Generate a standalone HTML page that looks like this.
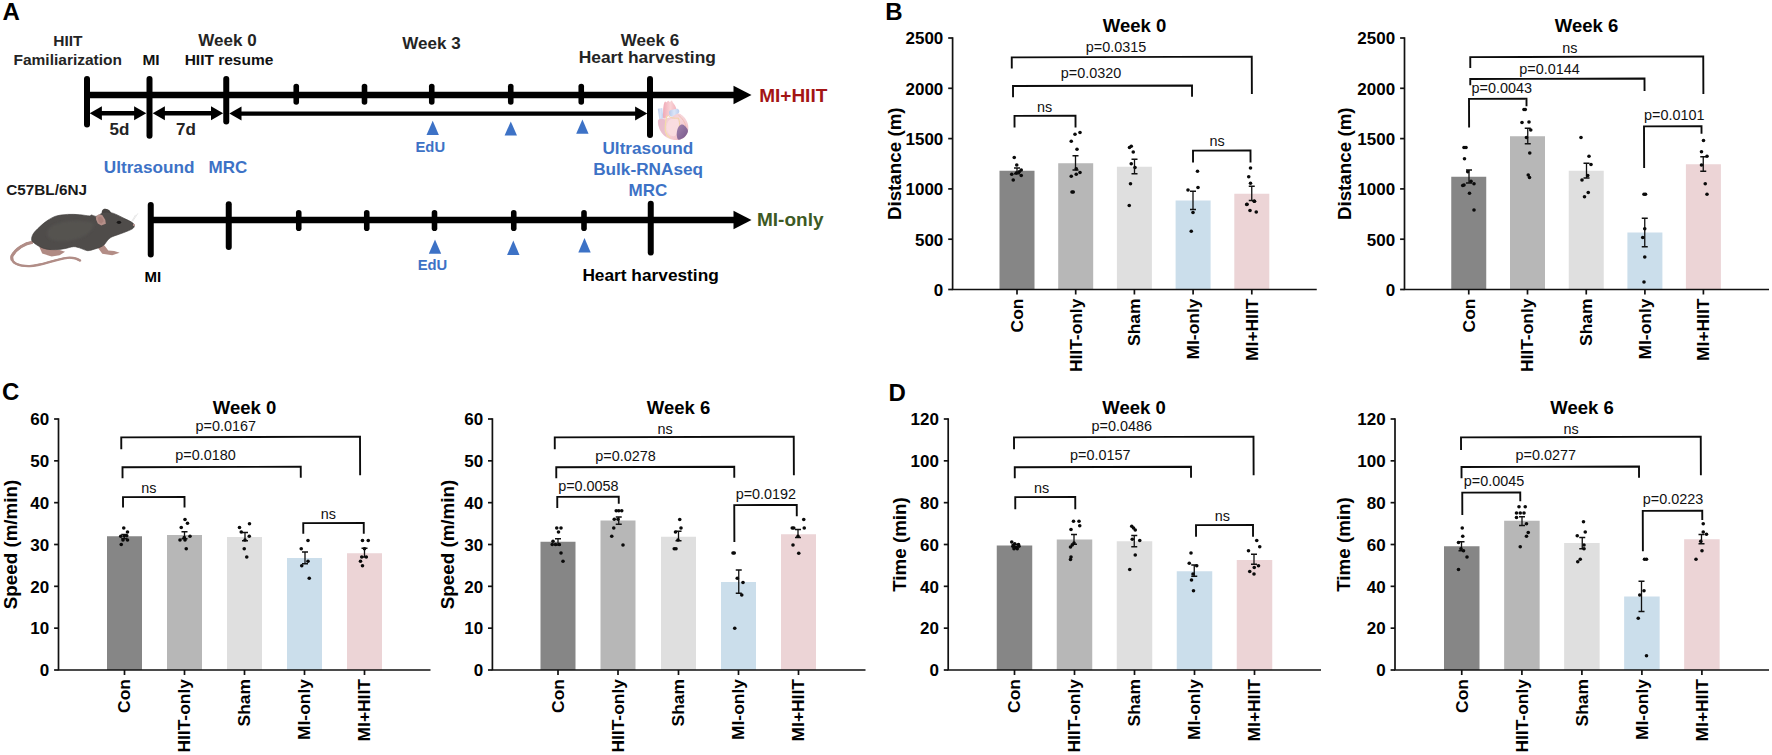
<!DOCTYPE html>
<html lang="en"><head><meta charset="utf-8"><title>Figure</title>
<style>html,body{margin:0;padding:0;background:#fff;overflow:hidden}svg{display:block}text{font-family:"Liberation Sans", Arial, sans-serif}</style>
</head><body>
<svg width="1772" height="755" viewBox="0 0 1772 755">
<rect width="1772" height="755" fill="#fff"/>
<text x="2.4" y="20" font-size="24" font-weight="bold" fill="#000" text-anchor="start">A</text>
<text x="67.9" y="45.8" font-size="15.5" font-weight="bold" fill="#242424" text-anchor="middle">HIIT</text>
<text x="67.75" y="64.5" font-size="15.5" font-weight="bold" fill="#242424" text-anchor="middle">Familiarization</text>
<text x="151" y="64.5" font-size="15.5" font-weight="bold" fill="#111" text-anchor="middle">MI</text>
<text x="227.5" y="46.3" font-size="17" font-weight="bold" fill="#242424" text-anchor="middle">Week 0</text>
<text x="229" y="65" font-size="15.5" font-weight="bold" fill="#111" text-anchor="middle">HIIT resume</text>
<text x="431.5" y="48.8" font-size="17" font-weight="bold" fill="#242424" text-anchor="middle">Week 3</text>
<text x="650" y="46.3" font-size="17" font-weight="bold" fill="#242424" text-anchor="middle">Week 6</text>
<text x="647.3" y="62.5" font-size="17.4" font-weight="bold" fill="#242424" text-anchor="middle">Heart harvesting</text>
<g stroke="#000" stroke-linecap="round" fill="none">
<line x1="87" y1="95" x2="736" y2="95" stroke-width="6.5" stroke-linecap="butt"/>
<line x1="87" y1="79" x2="87" y2="124.5" stroke-width="6"/>
<line x1="149.5" y1="79" x2="149.5" y2="135.7" stroke-width="6"/>
<line x1="226.25" y1="79" x2="226.25" y2="121.5" stroke-width="6"/>
<line x1="650" y1="79" x2="650" y2="135" stroke-width="6"/>
<line x1="296.25" y1="86.5" x2="296.25" y2="102" stroke-width="5.6"/>
<line x1="364.5" y1="86.5" x2="364.5" y2="102" stroke-width="5.6"/>
<line x1="431.75" y1="86.5" x2="431.75" y2="102" stroke-width="5.6"/>
<line x1="510.75" y1="86.5" x2="510.75" y2="102" stroke-width="5.6"/>
<line x1="581.25" y1="86.5" x2="581.25" y2="102" stroke-width="5.6"/>
</g>
<polygon points="733.5,85.8 751.5,95 733.5,104.2" fill="#000"/>
<line x1="100.9" y1="113.3" x2="135.1" y2="113.3" stroke="#000" stroke-width="4.4"/>
<polygon points="89.7,113.3 101.9,106.3 101.9,120.3" fill="#000"/>
<polygon points="146.3,113.3 134.1,106.3 134.1,120.3" fill="#000"/>
<line x1="163.9" y1="113.3" x2="212" y2="113.3" stroke="#000" stroke-width="4.4"/>
<polygon points="152.7,113.3 164.9,106.3 164.9,120.3" fill="#000"/>
<polygon points="223.2,113.3 211,106.3 211,120.3" fill="#000"/>
<line x1="240.5" y1="113.6" x2="636.1" y2="113.6" stroke="#000" stroke-width="4.4"/>
<polygon points="229.3,113.6 241.5,106.6 241.5,120.6" fill="#000"/>
<polygon points="647.3,113.6 635.1,106.6 635.1,120.6" fill="#000"/>
<text x="119.5" y="135" font-size="17" font-weight="bold" fill="#242424" text-anchor="middle">5d</text>
<text x="186" y="134.6" font-size="17" font-weight="bold" fill="#242424" text-anchor="middle">7d</text>
<text x="149.1" y="173" font-size="17.2" font-weight="bold" fill="#3d72c6" text-anchor="middle">Ultrasound</text>
<text x="227.9" y="173" font-size="17" font-weight="bold" fill="#3d72c6" text-anchor="middle">MRC</text>
<polygon points="432.7,120.7 426.5,135 438.9,135" fill="#3d72c6"/>
<polygon points="510.8,121.4 504.6,135.6 517,135.6" fill="#3d72c6"/>
<polygon points="582.4,119.4 576.2,133.8 588.6,133.8" fill="#3d72c6"/>
<text x="430.3" y="152" font-size="14.8" font-weight="bold" fill="#3d72c6" text-anchor="middle">EdU</text>
<text x="647.8" y="153.8" font-size="17.2" font-weight="bold" fill="#3d72c6" text-anchor="middle">Ultrasound</text>
<text x="648.1" y="174.6" font-size="17.2" font-weight="bold" fill="#3d72c6" text-anchor="middle">Bulk-RNAseq</text>
<text x="647.9" y="195.7" font-size="17" font-weight="bold" fill="#3d72c6" text-anchor="middle">MRC</text>
<g stroke="#000" stroke-linecap="round" fill="none">
<line x1="150.75" y1="220" x2="736" y2="220" stroke-width="6.3" stroke-linecap="butt"/>
<line x1="150.75" y1="205" x2="150.75" y2="254.5" stroke-width="6"/>
<line x1="228.75" y1="204.3" x2="228.75" y2="247" stroke-width="6"/>
<line x1="650.75" y1="203.7" x2="650.75" y2="252.5" stroke-width="6"/>
<line x1="298.75" y1="212.8" x2="298.75" y2="228.3" stroke-width="5.6"/>
<line x1="366.75" y1="212.8" x2="366.75" y2="228.3" stroke-width="5.6"/>
<line x1="434.5" y1="212.8" x2="434.5" y2="228.3" stroke-width="5.6"/>
<line x1="513.75" y1="212.8" x2="513.75" y2="228.3" stroke-width="5.6"/>
<line x1="584" y1="212.8" x2="584" y2="228.3" stroke-width="5.6"/>
</g>
<polygon points="733.5,210.8 751.5,220 733.5,229.2" fill="#000"/>
<polygon points="435,239.5 428.8,253.7 441.2,253.7" fill="#3d72c6"/>
<polygon points="513.3,240.5 507.1,255 519.5,255" fill="#3d72c6"/>
<polygon points="584.5,238 578.3,252.5 590.7,252.5" fill="#3d72c6"/>
<text x="432.5" y="270" font-size="14.8" font-weight="bold" fill="#3d72c6" text-anchor="middle">EdU</text>
<text x="152.8" y="281.8" font-size="15" font-weight="bold" fill="#000" text-anchor="middle">MI</text>
<text x="650.6" y="281.3" font-size="17.3" font-weight="bold" fill="#000" text-anchor="middle">Heart harvesting</text>
<text x="759.2" y="102" font-size="19" font-weight="bold" fill="#a31515" text-anchor="start">MI+HIIT</text>
<text x="757" y="226.3" font-size="19" font-weight="bold" fill="#3d5a24" text-anchor="start">MI-only</text>
<text x="6.2" y="195" font-size="15.3" font-weight="bold" fill="#1a1a1a" text-anchor="start">C57BL/6NJ</text>
<defs><filter id="mblur" x="-20%" y="-20%" width="140%" height="140%"><feGaussianBlur stdDeviation="1.2"/></filter></defs>
<g id="mouse">
<path d="M132.57,221.35 L137.84,213.41 M131.88,221.05 L135.55,214.9" stroke="#dcdcdc" stroke-width="0.7" fill="none"/>
<path d="M32.77,242.2 C24.83,243.2 15.89,248.66 11.92,256.11 C10.43,263.56 19.86,266.34 29.79,266.04 C41.71,265.54 53.62,259.58 67.53,257.8 C72.49,257.4 77.46,258.79 80.44,260.77" fill="none" stroke="#b18d87" stroke-width="1.6" stroke-linecap="round"/>
<path d="M32.77,242.2 C24.83,243.2 15.89,248.66 11.92,256.11 C10.43,263.56 19.86,266.34 29.79,266.04 C41.71,265.54 53.62,259.58 67.53,257.8 C72.49,257.4 77.46,258.79 80.44,260.77" fill="none" stroke="#b18d87" stroke-width="2.3" stroke-dasharray="105 200"/>
<path d="M32.77,242.2 C24.83,243.2 15.89,248.66 11.92,256.11 C10.43,263.56 19.86,266.34 29.79,266.04 C41.71,265.54 53.62,259.58 67.53,257.8 C72.49,257.4 77.46,258.79 80.44,260.77" fill="none" stroke="#b18d87" stroke-width="3.1" stroke-dasharray="30 200"/>
<polygon points="39.23,246.67 42.2,253.62 51.64,256.41 59.58,255.21 65.04,251.64 59.58,249.95 51.64,249.45 44.69,246.67" fill="#b08a83"/>
<polygon points="96.82,246.18 102.28,253.82 112.21,255.21 119.66,252.63 114.2,251.04 108.24,250.45 104.27,245.18" fill="#b38d86"/>
<path d="M102.28,214.9 C100.79,210.92 102.78,208.44 105.46,208.74 C108.74,208.94 110.72,210.92 111.22,213.41 L105.26,216.88 Z" fill="#474442"/>
<path d="M31.58,239.72 C31.5,238.23 31.91,235.92 33.27,233.76 C34.62,231.61 37.32,229.05 39.72,226.81 C42.12,224.58 44.85,222.18 47.67,220.36 C50.48,218.54 53.29,216.88 56.6,215.89 C59.91,214.9 63.72,214.6 67.53,214.4 C71.33,214.2 75.8,214.45 79.44,214.7 C83.09,214.95 87.39,215.86 89.37,215.89 C91.36,215.92 90.28,214.81 91.36,214.9 C92.44,214.98 94.51,216.39 95.83,216.39 C97.15,216.39 98.06,215.56 99.3,214.9 C100.55,214.23 101.46,212.83 103.28,212.41 C105.1,212 107.91,212 110.23,212.41 C112.55,212.83 114.7,213.82 117.18,214.9 C119.66,215.97 122.81,217.71 125.12,218.87 C127.44,220.03 129.56,220.85 131.08,221.85 C132.61,222.84 133.93,223.75 134.26,224.83 C134.59,225.9 134.26,227.23 133.07,228.3 C131.88,229.38 129.43,230.29 127.11,231.28 C124.79,232.27 121.81,233.27 119.17,234.26 C116.52,235.25 113.21,236.16 111.22,237.24 C109.24,238.32 108.41,239.47 107.25,240.71 C106.09,241.96 105.43,243.61 104.27,244.69 C103.11,245.76 101.95,246.43 100.3,247.17 C98.64,247.91 96.49,248.58 94.34,249.16 C92.19,249.74 89.87,250.86 87.39,250.65 C84.91,250.43 81.76,248.53 79.44,247.86 C77.13,247.2 75.97,246.54 73.49,246.67 C71,246.81 67.53,248.16 64.55,248.66 C61.57,249.16 58.59,249.57 55.61,249.65 C52.63,249.74 49.32,249.65 46.67,249.16 C44.03,248.66 41.87,247.75 39.72,246.67 C37.57,245.6 35.12,243.86 33.76,242.7 C32.41,241.54 31.66,241.21 31.58,239.72 Z" fill="#4f4c4a" stroke="#403d3b" stroke-width="0.6"/>
<path d="M47.67,229.79 C55.61,219.86 79.44,218.87 93.35,222.84 C95.33,232.77 79.44,239.72 69.51,240.71 C59.58,241.71 43.69,241.71 47.67,229.79 Z" fill="#555250" filter="url(#mblur)"/>
<polygon points="95.83,216.88 98.31,214.5 102.28,214.9 105.26,219.86 105.86,223.83 101.29,225.42 97.82,223.44 96.13,219.86" fill="#b58f89"/>
<polygon points="97.82,217.87 99.8,216.39 102.28,217.87 103.77,221.35 101.29,223.83 98.81,222.34" fill="#a8807a"/>
<ellipse cx="118.97" cy="222.34" rx="2.2" ry="1.7" fill="#191717"/>
<circle cx="133.86" cy="225.02" r="1" fill="#c39a95"/>
</g>
<defs>
<linearGradient id="hgA" x1="0" y1="0" x2="1" y2="0"><stop offset="0" stop-color="#f0a9b6"/><stop offset="0.55" stop-color="#f9d3d6"/><stop offset="1" stop-color="#f2b4be"/></linearGradient>
<linearGradient id="hgB" x1="0" y1="0" x2="1" y2="0"><stop offset="0" stop-color="#b9c9ea"/><stop offset="0.5" stop-color="#dbe5f8"/><stop offset="1" stop-color="#bccdee"/></linearGradient>
<linearGradient id="hgC" x1="0" y1="0" x2="1" y2="1"><stop offset="0" stop-color="#eec0cd"/><stop offset="0.45" stop-color="#f7d6da"/><stop offset="1" stop-color="#f0b9c4"/></linearGradient>
<linearGradient id="hgD" x1="0" y1="0" x2="1" y2="1"><stop offset="0" stop-color="#a283ae"/><stop offset="1" stop-color="#765789"/></linearGradient>
</defs>
<g id="heart">
<polygon points="657.81,108.72 662.25,107.92 663.44,118.19 659.4,119.97" fill="url(#hgB)"/>
<path d="M663.58,118.52 C662.56,117.74 663.08,113.55 663.11,111.23 C663.15,108.91 663.48,106.21 663.77,104.61 C664.07,103.01 664.44,102.02 664.9,101.63 C665.36,101.24 666,102.43 666.56,102.29 C667.11,102.15 667.66,100.82 668.21,100.77 C668.76,100.71 669.26,102 669.87,101.96 C670.47,101.92 671.36,100.39 671.85,100.5 C672.35,100.61 672.24,101.61 672.85,102.62 C673.45,103.64 674.87,105.11 675.5,106.6 C676.13,108.09 676.9,110.13 676.62,111.56 C676.35,113 675.08,114.49 673.84,115.21 C672.6,115.92 670.92,115.32 669.21,115.87 C667.49,116.42 664.59,119.29 663.58,118.52 Z" fill="url(#hgA)"/>
<path d="M669.34,111.1 C669.99,110.16 672.08,109.93 673.51,109.58 C674.94,109.22 676.99,108.59 677.95,108.98 C678.91,109.37 679.49,110.94 679.27,111.89 C679.05,112.84 677.84,113.88 676.62,114.68 C675.41,115.47 673.16,116.57 671.99,116.66 C670.82,116.75 670.04,116.13 669.6,115.21 C669.16,114.28 668.69,112.04 669.34,111.1 Z" fill="url(#hgB)"/>
<path d="M658.28,119.97 C657.48,121.13 658.04,123.84 658.48,125.8 C658.92,127.77 659.8,130 660.93,131.76 C662.05,133.53 663.41,135.13 665.23,136.4 C667.05,137.67 669.65,138.8 671.85,139.38 C674.06,139.95 676.38,140.21 678.48,139.84 C680.57,139.48 682.89,138.48 684.44,137.19 C685.98,135.9 687.12,133.99 687.75,132.09 C688.38,130.19 688.49,127.82 688.21,125.8 C687.94,123.78 687.11,121.72 686.09,119.97 C685.08,118.23 683.44,116.41 682.12,115.34 C680.79,114.27 679.8,113.33 678.15,113.55 C676.49,113.77 674.06,115.92 672.19,116.66 C670.31,117.4 668.38,117.62 666.89,117.99 C665.4,118.35 664.68,118.52 663.25,118.85 C661.81,119.18 659.07,118.81 658.28,119.97 Z" fill="url(#hgC)"/>
<path d="M658.34,120.17 C659.01,118.72 662.04,118.66 663.25,119.05 C664.45,119.43 665.29,120.59 665.56,122.49 C665.84,124.39 664.74,128.12 664.9,130.44 C665.07,132.75 666.94,135.85 666.56,136.4 C666.17,136.95 663.8,135.18 662.58,133.75 C661.37,132.31 659.98,130.05 659.27,127.79 C658.57,125.53 657.68,121.63 658.34,120.17 Z" fill="#e6b9ca" opacity="0.8"/>
<path d="M669.87,119.84 C671.41,119.01 674.94,118.19 676.49,118.85 C678.04,119.51 678.92,121.88 679.14,123.81 C679.36,125.75 678.48,128.45 677.81,130.44 C677.15,132.42 676.49,134.96 675.17,135.74 C673.84,136.51 671.25,136.18 669.87,135.07 C668.49,133.97 667.33,130.99 666.89,129.11 C666.45,127.24 666.72,125.36 667.22,123.81 C667.72,122.27 668.32,120.67 669.87,119.84 Z" fill="#f9dde0" opacity="0.9"/>
<path d="M666.89,115.87 C665.56,121.17 664.7,127.13 665.56,131.76 C666.23,134.41 667.88,136.4 669.87,137.72" fill="none" stroke="#f3dca8" stroke-width="1.2" stroke-linecap="round"/>
<path d="M668.87,116.2 C671.85,118.85 676.49,118.19 678.48,118.19 C679.47,121.17 679.8,123.81 679.47,126.46" fill="none" stroke="#f1d3a4" stroke-width="1" stroke-linecap="round"/>
<path d="M678.48,115.21 C682.45,117.85 685.1,122.49 686.09,127.13" fill="none" stroke="#eeb7a8" stroke-width="0.7"/>
<path d="M677.15,130.44 C677.54,128.8 678.26,126.93 679.14,125.93 C680.02,124.94 681.29,124.28 682.45,124.48 C683.61,124.68 685.18,126 686.09,127.13 C687.01,128.25 688.2,129.58 687.95,131.23 C687.69,132.89 686.13,135.65 684.57,137.06 C683.01,138.47 679.9,139.93 678.61,139.71 C677.32,139.49 677.06,137.28 676.82,135.74 C676.58,134.19 676.77,132.07 677.15,130.44 Z" fill="url(#hgD)"/>
</g>
<text x="885.3" y="20" font-size="24" font-weight="bold" fill="#000" text-anchor="start">B</text>
<text x="2" y="400" font-size="24" font-weight="bold" fill="#000" text-anchor="start">C</text>
<text x="888.6" y="400.6" font-size="24" font-weight="bold" fill="#000" text-anchor="start">D</text>
<rect x="999.5" y="170.75" width="35" height="118.75" fill="#868686"/>
<rect x="1058.2" y="163.25" width="35" height="126.25" fill="#b7b7b7"/>
<rect x="1116.9" y="166.75" width="35" height="122.75" fill="#dfdfdf"/>
<rect x="1175.6" y="200.5" width="35" height="89" fill="#cbdeeb"/>
<rect x="1234.3" y="193.75" width="35" height="95.75" fill="#ecd4d6"/>
<g stroke="#111" stroke-width="1.7" fill="none">
<path d="M952.6,37.25 V289.5 H1316.75"/>
<line x1="948.2" y1="289.5" x2="952.6" y2="289.5"/>
<line x1="948.2" y1="239.2" x2="952.6" y2="239.2"/>
<line x1="948.2" y1="188.9" x2="952.6" y2="188.9"/>
<line x1="948.2" y1="138.6" x2="952.6" y2="138.6"/>
<line x1="948.2" y1="88.3" x2="952.6" y2="88.3"/>
<line x1="948.2" y1="38" x2="952.6" y2="38"/>
<line x1="1017" y1="289.5" x2="1017" y2="294.5"/>
<line x1="1075.7" y1="289.5" x2="1075.7" y2="294.5"/>
<line x1="1134.4" y1="289.5" x2="1134.4" y2="294.5"/>
<line x1="1193.1" y1="289.5" x2="1193.1" y2="294.5"/>
<line x1="1251.8" y1="289.5" x2="1251.8" y2="294.5"/>
</g>
<text x="943.3" y="295.8" font-size="17" font-weight="bold" fill="#000" text-anchor="end">0</text>
<text x="943.3" y="245.5" font-size="17" font-weight="bold" fill="#000" text-anchor="end">500</text>
<text x="943.3" y="195.2" font-size="17" font-weight="bold" fill="#000" text-anchor="end">1000</text>
<text x="943.3" y="144.9" font-size="17" font-weight="bold" fill="#000" text-anchor="end">1500</text>
<text x="943.3" y="94.6" font-size="17" font-weight="bold" fill="#000" text-anchor="end">2000</text>
<text x="943.3" y="44.3" font-size="17" font-weight="bold" fill="#000" text-anchor="end">2500</text>
<text x="1023" y="298.6" font-size="17.4" font-weight="bold" fill="#000" text-anchor="end" transform="rotate(-90 1023 298.6)">Con</text>
<text x="1081.7" y="298.6" font-size="17.4" font-weight="bold" fill="#000" text-anchor="end" transform="rotate(-90 1081.7 298.6)">HIIT-only</text>
<text x="1140.4" y="298.6" font-size="17.4" font-weight="bold" fill="#000" text-anchor="end" transform="rotate(-90 1140.4 298.6)">Sham</text>
<text x="1199.1" y="298.6" font-size="17.4" font-weight="bold" fill="#000" text-anchor="end" transform="rotate(-90 1199.1 298.6)">MI-only</text>
<text x="1257.8" y="298.6" font-size="17.4" font-weight="bold" fill="#000" text-anchor="end" transform="rotate(-90 1257.8 298.6)">MI+HIIT</text>
<text x="1134.5" y="32" font-size="18.5" font-weight="bold" fill="#000" text-anchor="middle">Week 0</text>
<text x="900.5" y="163.75" font-size="18.8" font-weight="bold" fill="#000" text-anchor="middle" transform="rotate(-90 900.5 163.75)">Distance (m)</text>
<g stroke="#111" stroke-width="1.3" fill="none">
<path d="M1014,168 H1020 M1017,168 V173.75 M1014,173.75 H1020"/>
<path d="M1072.5,155.75 H1078.5 M1075.5,155.75 V170 M1072.5,170 H1078.5"/>
<path d="M1131.5,159.25 H1137.5 M1134.5,159.25 V173.75 M1131.5,173.75 H1137.5"/>
<path d="M1190,191.25 H1196 M1193,191.25 V209.5 M1190,209.5 H1196"/>
<path d="M1248.75,186.25 H1254.75 M1251.75,186.25 V200.5 M1248.75,200.5 H1254.75"/>
</g>
<g fill="#0a0a0a">
<circle cx="1014.25" cy="157.5" r="1.8"/>
<circle cx="1016.75" cy="165" r="1.8"/>
<circle cx="1011.75" cy="174.25" r="1.8"/>
<circle cx="1016.25" cy="173" r="1.8"/>
<circle cx="1021.25" cy="170" r="1.8"/>
<circle cx="1019.25" cy="171.75" r="1.8"/>
<circle cx="1013.25" cy="180" r="1.8"/>
<circle cx="1021.25" cy="175.5" r="1.8"/>
<circle cx="1075" cy="134.25" r="1.8"/>
<circle cx="1080" cy="132.5" r="1.8"/>
<circle cx="1071.25" cy="141.25" r="1.8"/>
<circle cx="1077" cy="149.25" r="1.8"/>
<circle cx="1076.25" cy="168.75" r="1.8"/>
<circle cx="1080" cy="172.5" r="1.8"/>
<circle cx="1071.25" cy="176.25" r="1.8"/>
<circle cx="1076.25" cy="174.25" r="1.8"/>
<circle cx="1072" cy="192" r="1.8"/>
<circle cx="1073.25" cy="192" r="1.8"/>
<circle cx="1129.5" cy="147.5" r="1.8"/>
<circle cx="1131.25" cy="146.25" r="1.8"/>
<circle cx="1133.25" cy="152" r="1.8"/>
<circle cx="1131.25" cy="163.75" r="1.8"/>
<circle cx="1135" cy="167.5" r="1.8"/>
<circle cx="1130.5" cy="183.75" r="1.8"/>
<circle cx="1197.5" cy="171.25" r="1.8"/>
<circle cx="1198" cy="187.5" r="1.8"/>
<circle cx="1188" cy="190" r="1.8"/>
<circle cx="1250.5" cy="168" r="1.8"/>
<circle cx="1248.75" cy="176.75" r="1.8"/>
<circle cx="1250.5" cy="183.25" r="1.8"/>
<circle cx="1254.25" cy="201.25" r="1.8"/>
<circle cx="1246.75" cy="204.5" r="1.8"/>
<circle cx="1129.25" cy="205.5" r="1.8"/>
<circle cx="1193" cy="212.5" r="1.8"/>
<circle cx="1191.25" cy="231.25" r="1.8"/>
<circle cx="1254.5" cy="201.25" r="1.8"/>
<circle cx="1247" cy="204.25" r="1.8"/>
<circle cx="1250" cy="210.5" r="1.8"/>
<circle cx="1256.25" cy="212" r="1.8"/>
</g>
<g stroke="#0c0c0c" stroke-width="1.9" fill="none" stroke-linejoin="miter">
<path transform="rotate(-0.2 1131.75 57)" d="M1011.75,68 V57 H1251.75 V94.5"/>
<path transform="rotate(-0.2 1102.5 85.75)" d="M1013,97 V85.75 H1192 V97"/>
<path transform="rotate(-0.2 1045 115.75)" d="M1014.5,127.5 V115.75 H1075.5 V127.5"/>
<path transform="rotate(-0.2 1221.75 150.5)" d="M1193,162.5 V150.5 H1250.5 V162.5"/>
</g>
<text x="1116" y="52" font-size="14.4" font-weight="normal" fill="#111" text-anchor="middle">p=0.0315</text>
<text x="1091" y="77.5" font-size="14.4" font-weight="normal" fill="#111" text-anchor="middle">p=0.0320</text>
<text x="1044.5" y="112" font-size="14.4" font-weight="normal" fill="#111" text-anchor="middle">ns</text>
<text x="1217" y="146" font-size="14.4" font-weight="normal" fill="#111" text-anchor="middle">ns</text>
<rect x="1451.25" y="176.75" width="35" height="112.75" fill="#868686"/>
<rect x="1510" y="136.25" width="35" height="153.25" fill="#b7b7b7"/>
<rect x="1568.75" y="170.75" width="35" height="118.75" fill="#dfdfdf"/>
<rect x="1627.4" y="232.5" width="35" height="57" fill="#cbdeeb"/>
<rect x="1685.9" y="164.25" width="35" height="125.25" fill="#ecd4d6"/>
<g stroke="#111" stroke-width="1.7" fill="none">
<path d="M1404.5,37.25 V289.5 H1769"/>
<line x1="1400.1" y1="289.5" x2="1404.5" y2="289.5"/>
<line x1="1400.1" y1="239.2" x2="1404.5" y2="239.2"/>
<line x1="1400.1" y1="188.9" x2="1404.5" y2="188.9"/>
<line x1="1400.1" y1="138.6" x2="1404.5" y2="138.6"/>
<line x1="1400.1" y1="88.3" x2="1404.5" y2="88.3"/>
<line x1="1400.1" y1="38" x2="1404.5" y2="38"/>
<line x1="1468.75" y1="289.5" x2="1468.75" y2="294.5"/>
<line x1="1527.5" y1="289.5" x2="1527.5" y2="294.5"/>
<line x1="1586.25" y1="289.5" x2="1586.25" y2="294.5"/>
<line x1="1644.9" y1="289.5" x2="1644.9" y2="294.5"/>
<line x1="1703.4" y1="289.5" x2="1703.4" y2="294.5"/>
</g>
<text x="1395.2" y="295.8" font-size="17" font-weight="bold" fill="#000" text-anchor="end">0</text>
<text x="1395.2" y="245.5" font-size="17" font-weight="bold" fill="#000" text-anchor="end">500</text>
<text x="1395.2" y="195.2" font-size="17" font-weight="bold" fill="#000" text-anchor="end">1000</text>
<text x="1395.2" y="144.9" font-size="17" font-weight="bold" fill="#000" text-anchor="end">1500</text>
<text x="1395.2" y="94.6" font-size="17" font-weight="bold" fill="#000" text-anchor="end">2000</text>
<text x="1395.2" y="44.3" font-size="17" font-weight="bold" fill="#000" text-anchor="end">2500</text>
<text x="1474.75" y="298.6" font-size="17.4" font-weight="bold" fill="#000" text-anchor="end" transform="rotate(-90 1474.75 298.6)">Con</text>
<text x="1533.5" y="298.6" font-size="17.4" font-weight="bold" fill="#000" text-anchor="end" transform="rotate(-90 1533.5 298.6)">HIIT-only</text>
<text x="1592.25" y="298.6" font-size="17.4" font-weight="bold" fill="#000" text-anchor="end" transform="rotate(-90 1592.25 298.6)">Sham</text>
<text x="1650.9" y="298.6" font-size="17.4" font-weight="bold" fill="#000" text-anchor="end" transform="rotate(-90 1650.9 298.6)">MI-only</text>
<text x="1709.4" y="298.6" font-size="17.4" font-weight="bold" fill="#000" text-anchor="end" transform="rotate(-90 1709.4 298.6)">MI+HIIT</text>
<text x="1586.5" y="32" font-size="18.5" font-weight="bold" fill="#000" text-anchor="middle">Week 6</text>
<text x="1351" y="163.75" font-size="18.8" font-weight="bold" fill="#000" text-anchor="middle" transform="rotate(-90 1351 163.75)">Distance (m)</text>
<g stroke="#111" stroke-width="1.3" fill="none">
<path d="M1466,170 H1472 M1469,170 V183 M1466,183 H1472"/>
<path d="M1524.75,128.25 H1530.75 M1527.75,128.25 V143.75 M1524.75,143.75 H1530.75"/>
<path d="M1583.5,163.25 H1589.5 M1586.5,163.25 V178 M1583.5,178 H1589.5"/>
<path d="M1641.75,218.25 H1647.75 M1644.75,218.25 V246.75 M1641.75,246.75 H1647.75"/>
<path d="M1700.25,156.75 H1706.25 M1703.25,156.75 V171.25 M1700.25,171.25 H1706.25"/>
</g>
<g fill="#0a0a0a">
<circle cx="1464" cy="147.5" r="1.8"/>
<circle cx="1466" cy="147.5" r="1.8"/>
<circle cx="1464.5" cy="158.75" r="1.8"/>
<circle cx="1467.75" cy="171.75" r="1.8"/>
<circle cx="1464" cy="185" r="1.8"/>
<circle cx="1462.75" cy="185.5" r="1.8"/>
<circle cx="1471" cy="181.25" r="1.8"/>
<circle cx="1474" cy="183.75" r="1.8"/>
<circle cx="1469.5" cy="193.25" r="1.8"/>
<circle cx="1524" cy="109.5" r="1.8"/>
<circle cx="1525.25" cy="109.5" r="1.8"/>
<circle cx="1522" cy="122.5" r="1.8"/>
<circle cx="1529" cy="122" r="1.8"/>
<circle cx="1530.75" cy="130" r="1.8"/>
<circle cx="1526.5" cy="137.5" r="1.8"/>
<circle cx="1529.75" cy="153" r="1.8"/>
<circle cx="1528.25" cy="175" r="1.8"/>
<circle cx="1529.5" cy="177.5" r="1.8"/>
<circle cx="1581" cy="137.5" r="1.8"/>
<circle cx="1589" cy="156.25" r="1.8"/>
<circle cx="1591" cy="164.5" r="1.8"/>
<circle cx="1587.75" cy="175.5" r="1.8"/>
<circle cx="1582" cy="180" r="1.8"/>
<circle cx="1588.25" cy="192.5" r="1.8"/>
<circle cx="1584.5" cy="196.75" r="1.8"/>
<circle cx="1644" cy="194.25" r="1.8"/>
<circle cx="1645.5" cy="194.25" r="1.8"/>
<circle cx="1703.5" cy="140.5" r="1.8"/>
<circle cx="1701.5" cy="151.75" r="1.8"/>
<circle cx="1707" cy="156.25" r="1.8"/>
<circle cx="1701.5" cy="165" r="1.8"/>
<circle cx="1705.25" cy="183.75" r="1.8"/>
<circle cx="1707" cy="194.25" r="1.8"/>
<circle cx="1474" cy="210" r="1.8"/>
<circle cx="1644.75" cy="228.75" r="1.8"/>
<circle cx="1642.75" cy="237.5" r="1.8"/>
<circle cx="1644.75" cy="257" r="1.8"/>
<circle cx="1644" cy="282" r="1.8"/>
</g>
<g stroke="#0c0c0c" stroke-width="1.9" fill="none" stroke-linejoin="miter">
<path transform="rotate(-0.2 1586.75 56.75)" d="M1470.25,67.5 V56.75 H1703.25 V94.5"/>
<path transform="rotate(-0.2 1557.38 78.75)" d="M1470.25,85 V78.75 H1644.5 V91.25"/>
<path transform="rotate(-0.2 1497.75 98.75)" d="M1469,127.5 V98.75 H1526.5 V106.25"/>
<path transform="rotate(-0.2 1672.75 126.25)" d="M1644,168 V126.25 H1701.5 V133.75"/>
</g>
<text x="1569.75" y="52.5" font-size="14.4" font-weight="normal" fill="#111" text-anchor="middle">ns</text>
<text x="1549.5" y="73.75" font-size="14.4" font-weight="normal" fill="#111" text-anchor="middle">p=0.0144</text>
<text x="1501.75" y="93.25" font-size="14.4" font-weight="normal" fill="#111" text-anchor="middle">p=0.0043</text>
<text x="1674.25" y="120" font-size="14.4" font-weight="normal" fill="#111" text-anchor="middle">p=0.0101</text>
<rect x="107" y="536.25" width="35" height="133.75" fill="#868686"/>
<rect x="167" y="535" width="35" height="135" fill="#b7b7b7"/>
<rect x="227" y="537" width="35" height="133" fill="#dfdfdf"/>
<rect x="287" y="558" width="35" height="112" fill="#cbdeeb"/>
<rect x="347" y="553.25" width="35" height="116.75" fill="#ecd4d6"/>
<g stroke="#111" stroke-width="1.7" fill="none">
<path d="M58.5,418.25 V670 H430.5"/>
<line x1="54.1" y1="670" x2="58.5" y2="670"/>
<line x1="54.1" y1="628.17" x2="58.5" y2="628.17"/>
<line x1="54.1" y1="586.33" x2="58.5" y2="586.33"/>
<line x1="54.1" y1="544.5" x2="58.5" y2="544.5"/>
<line x1="54.1" y1="502.67" x2="58.5" y2="502.67"/>
<line x1="54.1" y1="460.83" x2="58.5" y2="460.83"/>
<line x1="54.1" y1="419" x2="58.5" y2="419"/>
<line x1="124.5" y1="670" x2="124.5" y2="675"/>
<line x1="184.5" y1="670" x2="184.5" y2="675"/>
<line x1="244.5" y1="670" x2="244.5" y2="675"/>
<line x1="304.5" y1="670" x2="304.5" y2="675"/>
<line x1="364.5" y1="670" x2="364.5" y2="675"/>
</g>
<text x="49.2" y="676.3" font-size="17" font-weight="bold" fill="#000" text-anchor="end">0</text>
<text x="49.2" y="634.47" font-size="17" font-weight="bold" fill="#000" text-anchor="end">10</text>
<text x="49.2" y="592.63" font-size="17" font-weight="bold" fill="#000" text-anchor="end">20</text>
<text x="49.2" y="550.8" font-size="17" font-weight="bold" fill="#000" text-anchor="end">30</text>
<text x="49.2" y="508.97" font-size="17" font-weight="bold" fill="#000" text-anchor="end">40</text>
<text x="49.2" y="467.13" font-size="17" font-weight="bold" fill="#000" text-anchor="end">50</text>
<text x="49.2" y="425.3" font-size="17" font-weight="bold" fill="#000" text-anchor="end">60</text>
<text x="130.5" y="679.1" font-size="17.4" font-weight="bold" fill="#000" text-anchor="end" transform="rotate(-90 130.5 679.1)">Con</text>
<text x="190.5" y="679.1" font-size="17.4" font-weight="bold" fill="#000" text-anchor="end" transform="rotate(-90 190.5 679.1)">HIIT-only</text>
<text x="250.5" y="679.1" font-size="17.4" font-weight="bold" fill="#000" text-anchor="end" transform="rotate(-90 250.5 679.1)">Sham</text>
<text x="310.5" y="679.1" font-size="17.4" font-weight="bold" fill="#000" text-anchor="end" transform="rotate(-90 310.5 679.1)">MI-only</text>
<text x="370.5" y="679.1" font-size="17.4" font-weight="bold" fill="#000" text-anchor="end" transform="rotate(-90 370.5 679.1)">MI+HIIT</text>
<text x="244.5" y="413.75" font-size="18.5" font-weight="bold" fill="#000" text-anchor="middle">Week 0</text>
<text x="16.6" y="544.5" font-size="18.8" font-weight="bold" fill="#000" text-anchor="middle" transform="rotate(-90 16.6 544.5)">Speed (m/min)</text>
<g stroke="#111" stroke-width="1.3" fill="none">
<path d="M121.25,534.5 H127.25 M124.25,534.5 V538.75 M121.25,538.75 H127.25"/>
<path d="M181.5,531.75 H187.5 M184.5,531.75 V538.75 M181.5,538.75 H187.5"/>
<path d="M242,532.5 H248 M245,532.5 V540.75 M242,540.75 H248"/>
<path d="M302,552 H308 M305,552 V563.75 M302,563.75 H308"/>
<path d="M361.5,548.25 H367.5 M364.5,548.25 V557 M361.5,557 H367.5"/>
</g>
<g fill="#0a0a0a">
<circle cx="123.75" cy="528" r="1.8"/>
<circle cx="127.5" cy="532" r="1.8"/>
<circle cx="120.75" cy="536.25" r="1.8"/>
<circle cx="124.25" cy="535.75" r="1.8"/>
<circle cx="126.75" cy="535.75" r="1.8"/>
<circle cx="123" cy="540" r="1.8"/>
<circle cx="127.5" cy="540" r="1.8"/>
<circle cx="121.25" cy="544.5" r="1.8"/>
<circle cx="185" cy="519.5" r="1.8"/>
<circle cx="187.5" cy="523.25" r="1.8"/>
<circle cx="181.25" cy="527.5" r="1.8"/>
<circle cx="184.25" cy="537.5" r="1.8"/>
<circle cx="190" cy="536.25" r="1.8"/>
<circle cx="180" cy="540" r="1.8"/>
<circle cx="185" cy="540" r="1.8"/>
<circle cx="186.25" cy="548.75" r="1.8"/>
<circle cx="249.5" cy="523.75" r="1.8"/>
<circle cx="239.5" cy="527.5" r="1.8"/>
<circle cx="241.25" cy="532" r="1.8"/>
<circle cx="249.25" cy="536.25" r="1.8"/>
<circle cx="245" cy="540" r="1.8"/>
<circle cx="244.25" cy="548.75" r="1.8"/>
<circle cx="246.75" cy="557" r="1.8"/>
<circle cx="308" cy="540.5" r="1.8"/>
<circle cx="301.25" cy="548.75" r="1.8"/>
<circle cx="308" cy="561.25" r="1.8"/>
<circle cx="301.75" cy="565.75" r="1.8"/>
<circle cx="362.5" cy="540.5" r="1.8"/>
<circle cx="368.25" cy="540.5" r="1.8"/>
<circle cx="364.5" cy="548.75" r="1.8"/>
<circle cx="361.75" cy="557" r="1.8"/>
<circle cx="366.25" cy="557" r="1.8"/>
<circle cx="360.5" cy="561.25" r="1.8"/>
<circle cx="362.5" cy="565.75" r="1.8"/>
<circle cx="309.25" cy="578.25" r="1.8"/>
</g>
<g stroke="#0c0c0c" stroke-width="1.9" fill="none" stroke-linejoin="miter">
<path transform="rotate(-0.2 240.62 437)" d="M121.25,448.75 V437 H360 V475.75"/>
<path transform="rotate(-0.2 211.62 467)" d="M122.5,478 V467 H300.75 V478"/>
<path transform="rotate(-0.2 153.75 497)" d="M123,507.5 V497 H184.5 V507.5"/>
<path transform="rotate(-0.2 333.5 523)" d="M303.25,533.75 V523 H363.75 V533.75"/>
</g>
<text x="225.75" y="431.25" font-size="14.4" font-weight="normal" fill="#111" text-anchor="middle">p=0.0167</text>
<text x="205.5" y="459.5" font-size="14.4" font-weight="normal" fill="#111" text-anchor="middle">p=0.0180</text>
<text x="148.75" y="492.5" font-size="14.4" font-weight="normal" fill="#111" text-anchor="middle">ns</text>
<text x="328.25" y="518.75" font-size="14.4" font-weight="normal" fill="#111" text-anchor="middle">ns</text>
<rect x="540.5" y="541.75" width="35" height="128.25" fill="#868686"/>
<rect x="600.5" y="520.5" width="35" height="149.5" fill="#b7b7b7"/>
<rect x="661" y="536.75" width="35" height="133.25" fill="#dfdfdf"/>
<rect x="721" y="582" width="35" height="88" fill="#cbdeeb"/>
<rect x="781" y="534.25" width="35" height="135.75" fill="#ecd4d6"/>
<g stroke="#111" stroke-width="1.7" fill="none">
<path d="M492.4,418.25 V670 H865.5"/>
<line x1="488" y1="670" x2="492.4" y2="670"/>
<line x1="488" y1="628.17" x2="492.4" y2="628.17"/>
<line x1="488" y1="586.33" x2="492.4" y2="586.33"/>
<line x1="488" y1="544.5" x2="492.4" y2="544.5"/>
<line x1="488" y1="502.67" x2="492.4" y2="502.67"/>
<line x1="488" y1="460.83" x2="492.4" y2="460.83"/>
<line x1="488" y1="419" x2="492.4" y2="419"/>
<line x1="558" y1="670" x2="558" y2="675"/>
<line x1="618" y1="670" x2="618" y2="675"/>
<line x1="678.5" y1="670" x2="678.5" y2="675"/>
<line x1="738.5" y1="670" x2="738.5" y2="675"/>
<line x1="798.5" y1="670" x2="798.5" y2="675"/>
</g>
<text x="483.1" y="676.3" font-size="17" font-weight="bold" fill="#000" text-anchor="end">0</text>
<text x="483.1" y="634.47" font-size="17" font-weight="bold" fill="#000" text-anchor="end">10</text>
<text x="483.1" y="592.63" font-size="17" font-weight="bold" fill="#000" text-anchor="end">20</text>
<text x="483.1" y="550.8" font-size="17" font-weight="bold" fill="#000" text-anchor="end">30</text>
<text x="483.1" y="508.97" font-size="17" font-weight="bold" fill="#000" text-anchor="end">40</text>
<text x="483.1" y="467.13" font-size="17" font-weight="bold" fill="#000" text-anchor="end">50</text>
<text x="483.1" y="425.3" font-size="17" font-weight="bold" fill="#000" text-anchor="end">60</text>
<text x="564" y="679.1" font-size="17.4" font-weight="bold" fill="#000" text-anchor="end" transform="rotate(-90 564 679.1)">Con</text>
<text x="624" y="679.1" font-size="17.4" font-weight="bold" fill="#000" text-anchor="end" transform="rotate(-90 624 679.1)">HIIT-only</text>
<text x="684.5" y="679.1" font-size="17.4" font-weight="bold" fill="#000" text-anchor="end" transform="rotate(-90 684.5 679.1)">Sham</text>
<text x="744.5" y="679.1" font-size="17.4" font-weight="bold" fill="#000" text-anchor="end" transform="rotate(-90 744.5 679.1)">MI-only</text>
<text x="804.5" y="679.1" font-size="17.4" font-weight="bold" fill="#000" text-anchor="end" transform="rotate(-90 804.5 679.1)">MI+HIIT</text>
<text x="678.5" y="413.75" font-size="18.5" font-weight="bold" fill="#000" text-anchor="middle">Week 6</text>
<text x="454" y="544.5" font-size="18.8" font-weight="bold" fill="#000" text-anchor="middle" transform="rotate(-90 454 544.5)">Speed (m/min)</text>
<g stroke="#111" stroke-width="1.3" fill="none">
<path d="M555,538.75 H561 M558,538.75 V545 M555,545 H561"/>
<path d="M615.75,517 H621.75 M618.75,517 V524.25 M615.75,524.25 H621.75"/>
<path d="M675.5,531.25 H681.5 M678.5,531.25 V540.75 M675.5,540.75 H681.5"/>
<path d="M735.75,570 H741.75 M738.75,570 V593.25 M735.75,593.25 H741.75"/>
<path d="M795,529.5 H801 M798,529.5 V537.5 M795,537.5 H801"/>
</g>
<g fill="#0a0a0a">
<circle cx="556.75" cy="528" r="1.8"/>
<circle cx="561" cy="528" r="1.8"/>
<circle cx="558.5" cy="532" r="1.8"/>
<circle cx="553" cy="541.25" r="1.8"/>
<circle cx="552.25" cy="544.5" r="1.8"/>
<circle cx="555.5" cy="544.5" r="1.8"/>
<circle cx="559.25" cy="544.5" r="1.8"/>
<circle cx="561" cy="553" r="1.8"/>
<circle cx="563" cy="561.25" r="1.8"/>
<circle cx="616.25" cy="510.75" r="1.8"/>
<circle cx="618.75" cy="510.75" r="1.8"/>
<circle cx="621.75" cy="510.75" r="1.8"/>
<circle cx="614.25" cy="519.25" r="1.8"/>
<circle cx="618" cy="519.25" r="1.8"/>
<circle cx="613.75" cy="528" r="1.8"/>
<circle cx="611.75" cy="536.25" r="1.8"/>
<circle cx="623" cy="545" r="1.8"/>
<circle cx="679.75" cy="519.5" r="1.8"/>
<circle cx="681" cy="528" r="1.8"/>
<circle cx="675.5" cy="532" r="1.8"/>
<circle cx="678" cy="540" r="1.8"/>
<circle cx="674.25" cy="548.75" r="1.8"/>
<circle cx="676" cy="548.75" r="1.8"/>
<circle cx="733" cy="553" r="1.8"/>
<circle cx="734.25" cy="553" r="1.8"/>
<circle cx="803.75" cy="519.5" r="1.8"/>
<circle cx="792.25" cy="528" r="1.8"/>
<circle cx="793.75" cy="528" r="1.8"/>
<circle cx="804.25" cy="528" r="1.8"/>
<circle cx="798" cy="536.25" r="1.8"/>
<circle cx="793" cy="545" r="1.8"/>
<circle cx="798.75" cy="553.25" r="1.8"/>
<circle cx="737.25" cy="578.25" r="1.8"/>
<circle cx="743" cy="582.5" r="1.8"/>
<circle cx="741.75" cy="595" r="1.8"/>
<circle cx="734.75" cy="628.25" r="1.8"/>
</g>
<g stroke="#0c0c0c" stroke-width="1.9" fill="none" stroke-linejoin="miter">
<path transform="rotate(-0.2 674.25 437)" d="M554.75,448.75 V437 H793.75 V475.75"/>
<path transform="rotate(-0.2 645.25 467)" d="M556.25,478 V467 H734.25 V478"/>
<path transform="rotate(-0.2 588 496.75)" d="M557.25,508 V496.75 H618.75 V503.75"/>
<path transform="rotate(-0.2 765.5 505)" d="M734.25,542 V505 H796.75 V516.25"/>
</g>
<text x="665" y="433.75" font-size="14.4" font-weight="normal" fill="#111" text-anchor="middle">ns</text>
<text x="625.5" y="460.5" font-size="14.4" font-weight="normal" fill="#111" text-anchor="middle">p=0.0278</text>
<text x="588.4" y="491.25" font-size="14.4" font-weight="normal" fill="#111" text-anchor="middle">p=0.0058</text>
<text x="765.9" y="499.25" font-size="14.4" font-weight="normal" fill="#111" text-anchor="middle">p=0.0192</text>
<rect x="996.75" y="545.5" width="35.5" height="124.5" fill="#868686"/>
<rect x="1056.75" y="539.5" width="35.5" height="130.5" fill="#b7b7b7"/>
<rect x="1116.75" y="541.25" width="35.5" height="128.75" fill="#dfdfdf"/>
<rect x="1176.75" y="571.25" width="35.5" height="98.75" fill="#cbdeeb"/>
<rect x="1236.75" y="560" width="35.5" height="110" fill="#ecd4d6"/>
<g stroke="#111" stroke-width="1.7" fill="none">
<path d="M948.2,418.25 V670 H1321"/>
<line x1="943.8" y1="670" x2="948.2" y2="670"/>
<line x1="943.8" y1="628.17" x2="948.2" y2="628.17"/>
<line x1="943.8" y1="586.33" x2="948.2" y2="586.33"/>
<line x1="943.8" y1="544.5" x2="948.2" y2="544.5"/>
<line x1="943.8" y1="502.67" x2="948.2" y2="502.67"/>
<line x1="943.8" y1="460.83" x2="948.2" y2="460.83"/>
<line x1="943.8" y1="419" x2="948.2" y2="419"/>
<line x1="1014.5" y1="670" x2="1014.5" y2="675"/>
<line x1="1074.5" y1="670" x2="1074.5" y2="675"/>
<line x1="1134.5" y1="670" x2="1134.5" y2="675"/>
<line x1="1194.5" y1="670" x2="1194.5" y2="675"/>
<line x1="1254.5" y1="670" x2="1254.5" y2="675"/>
</g>
<text x="938.9" y="676.3" font-size="17" font-weight="bold" fill="#000" text-anchor="end">0</text>
<text x="938.9" y="634.47" font-size="17" font-weight="bold" fill="#000" text-anchor="end">20</text>
<text x="938.9" y="592.63" font-size="17" font-weight="bold" fill="#000" text-anchor="end">40</text>
<text x="938.9" y="550.8" font-size="17" font-weight="bold" fill="#000" text-anchor="end">60</text>
<text x="938.9" y="508.97" font-size="17" font-weight="bold" fill="#000" text-anchor="end">80</text>
<text x="938.9" y="467.13" font-size="17" font-weight="bold" fill="#000" text-anchor="end">100</text>
<text x="938.9" y="425.3" font-size="17" font-weight="bold" fill="#000" text-anchor="end">120</text>
<text x="1020.5" y="679.1" font-size="17.4" font-weight="bold" fill="#000" text-anchor="end" transform="rotate(-90 1020.5 679.1)">Con</text>
<text x="1080.5" y="679.1" font-size="17.4" font-weight="bold" fill="#000" text-anchor="end" transform="rotate(-90 1080.5 679.1)">HIIT-only</text>
<text x="1140.5" y="679.1" font-size="17.4" font-weight="bold" fill="#000" text-anchor="end" transform="rotate(-90 1140.5 679.1)">Sham</text>
<text x="1200.5" y="679.1" font-size="17.4" font-weight="bold" fill="#000" text-anchor="end" transform="rotate(-90 1200.5 679.1)">MI-only</text>
<text x="1260.5" y="679.1" font-size="17.4" font-weight="bold" fill="#000" text-anchor="end" transform="rotate(-90 1260.5 679.1)">MI+HIIT</text>
<text x="1134" y="413.75" font-size="18.5" font-weight="bold" fill="#000" text-anchor="middle">Week 0</text>
<text x="906" y="544.5" font-size="18.8" font-weight="bold" fill="#000" text-anchor="middle" transform="rotate(-90 906 544.5)">Time (min)</text>
<g stroke="#111" stroke-width="1.3" fill="none">
<path d="M1011.5,544.5 H1017.5 M1014.5,544.5 V546.5 M1011.5,546.5 H1017.5"/>
<path d="M1071,534.5 H1077 M1074,534.5 V544.25 M1071,544.25 H1077"/>
<path d="M1131.25,535.5 H1137.25 M1134.25,535.5 V546.75 M1131.25,546.75 H1137.25"/>
<path d="M1191.25,565 H1197.25 M1194.25,565 V576.25 M1191.25,576.25 H1197.25"/>
<path d="M1251,554.25 H1257 M1254,554.25 V564.25 M1251,564.25 H1257"/>
</g>
<g fill="#0a0a0a">
<circle cx="1011.75" cy="542" r="1.8"/>
<circle cx="1014.75" cy="543.75" r="1.8"/>
<circle cx="1018.5" cy="544.5" r="1.8"/>
<circle cx="1013" cy="546.25" r="1.8"/>
<circle cx="1016" cy="547.5" r="1.8"/>
<circle cx="1019" cy="546.25" r="1.8"/>
<circle cx="1014" cy="548.75" r="1.8"/>
<circle cx="1017.25" cy="548.75" r="1.8"/>
<circle cx="1073.5" cy="521.25" r="1.8"/>
<circle cx="1079" cy="521.25" r="1.8"/>
<circle cx="1079.75" cy="525.75" r="1.8"/>
<circle cx="1071" cy="529.5" r="1.8"/>
<circle cx="1074" cy="543" r="1.8"/>
<circle cx="1072.25" cy="545" r="1.8"/>
<circle cx="1070.5" cy="547" r="1.8"/>
<circle cx="1071" cy="557" r="1.8"/>
<circle cx="1070.5" cy="559.5" r="1.8"/>
<circle cx="1131.75" cy="526.25" r="1.8"/>
<circle cx="1133.5" cy="528" r="1.8"/>
<circle cx="1135.25" cy="530" r="1.8"/>
<circle cx="1132.25" cy="539.25" r="1.8"/>
<circle cx="1139.75" cy="540.5" r="1.8"/>
<circle cx="1135.25" cy="555" r="1.8"/>
<circle cx="1129.75" cy="569.5" r="1.8"/>
<circle cx="1191" cy="553" r="1.8"/>
<circle cx="1189.25" cy="563.25" r="1.8"/>
<circle cx="1196.75" cy="565.75" r="1.8"/>
<circle cx="1256.75" cy="540.5" r="1.8"/>
<circle cx="1259.75" cy="546.75" r="1.8"/>
<circle cx="1248.5" cy="550.75" r="1.8"/>
<circle cx="1258.5" cy="565.75" r="1.8"/>
<circle cx="1254.25" cy="567.5" r="1.8"/>
<circle cx="1193" cy="574" r="1.8"/>
<circle cx="1191.5" cy="580" r="1.8"/>
<circle cx="1193.5" cy="590.75" r="1.8"/>
<circle cx="1249.75" cy="571.5" r="1.8"/>
<circle cx="1254" cy="574" r="1.8"/>
</g>
<g stroke="#0c0c0c" stroke-width="1.9" fill="none" stroke-linejoin="miter">
<path transform="rotate(-0.2 1133.75 437)" d="M1014,448.75 V437 H1253.5 V475.75"/>
<path transform="rotate(-0.2 1102.88 467)" d="M1014.75,478 V467 H1191 V478"/>
<path transform="rotate(-0.2 1045.25 497)" d="M1015.25,509.25 V497 H1075.25 V509.25"/>
<path transform="rotate(-0.2 1224.5 525)" d="M1196,536.75 V525 H1253 V536.75"/>
</g>
<text x="1121.75" y="431.25" font-size="14.4" font-weight="normal" fill="#111" text-anchor="middle">p=0.0486</text>
<text x="1100.25" y="460" font-size="14.4" font-weight="normal" fill="#111" text-anchor="middle">p=0.0157</text>
<text x="1041.5" y="492.5" font-size="14.4" font-weight="normal" fill="#111" text-anchor="middle">ns</text>
<text x="1222.25" y="520.75" font-size="14.4" font-weight="normal" fill="#111" text-anchor="middle">ns</text>
<rect x="1444" y="546.25" width="35.5" height="123.75" fill="#868686"/>
<rect x="1504.15" y="520.75" width="35.5" height="149.25" fill="#b7b7b7"/>
<rect x="1564.15" y="543" width="35.5" height="127" fill="#dfdfdf"/>
<rect x="1624.15" y="596.5" width="35.5" height="73.5" fill="#cbdeeb"/>
<rect x="1684.15" y="539.25" width="35.5" height="130.75" fill="#ecd4d6"/>
<g stroke="#111" stroke-width="1.7" fill="none">
<path d="M1395,418.25 V670 H1769"/>
<line x1="1390.6" y1="670" x2="1395" y2="670"/>
<line x1="1390.6" y1="628.17" x2="1395" y2="628.17"/>
<line x1="1390.6" y1="586.33" x2="1395" y2="586.33"/>
<line x1="1390.6" y1="544.5" x2="1395" y2="544.5"/>
<line x1="1390.6" y1="502.67" x2="1395" y2="502.67"/>
<line x1="1390.6" y1="460.83" x2="1395" y2="460.83"/>
<line x1="1390.6" y1="419" x2="1395" y2="419"/>
<line x1="1461.75" y1="670" x2="1461.75" y2="675"/>
<line x1="1521.9" y1="670" x2="1521.9" y2="675"/>
<line x1="1581.9" y1="670" x2="1581.9" y2="675"/>
<line x1="1641.9" y1="670" x2="1641.9" y2="675"/>
<line x1="1701.9" y1="670" x2="1701.9" y2="675"/>
</g>
<text x="1385.7" y="676.3" font-size="17" font-weight="bold" fill="#000" text-anchor="end">0</text>
<text x="1385.7" y="634.47" font-size="17" font-weight="bold" fill="#000" text-anchor="end">20</text>
<text x="1385.7" y="592.63" font-size="17" font-weight="bold" fill="#000" text-anchor="end">40</text>
<text x="1385.7" y="550.8" font-size="17" font-weight="bold" fill="#000" text-anchor="end">60</text>
<text x="1385.7" y="508.97" font-size="17" font-weight="bold" fill="#000" text-anchor="end">80</text>
<text x="1385.7" y="467.13" font-size="17" font-weight="bold" fill="#000" text-anchor="end">100</text>
<text x="1385.7" y="425.3" font-size="17" font-weight="bold" fill="#000" text-anchor="end">120</text>
<text x="1467.75" y="679.1" font-size="17.4" font-weight="bold" fill="#000" text-anchor="end" transform="rotate(-90 1467.75 679.1)">Con</text>
<text x="1527.9" y="679.1" font-size="17.4" font-weight="bold" fill="#000" text-anchor="end" transform="rotate(-90 1527.9 679.1)">HIIT-only</text>
<text x="1587.9" y="679.1" font-size="17.4" font-weight="bold" fill="#000" text-anchor="end" transform="rotate(-90 1587.9 679.1)">Sham</text>
<text x="1647.9" y="679.1" font-size="17.4" font-weight="bold" fill="#000" text-anchor="end" transform="rotate(-90 1647.9 679.1)">MI-only</text>
<text x="1707.9" y="679.1" font-size="17.4" font-weight="bold" fill="#000" text-anchor="end" transform="rotate(-90 1707.9 679.1)">MI+HIIT</text>
<text x="1582" y="413.75" font-size="18.5" font-weight="bold" fill="#000" text-anchor="middle">Week 6</text>
<text x="1350" y="544.5" font-size="18.8" font-weight="bold" fill="#000" text-anchor="middle" transform="rotate(-90 1350 544.5)">Time (min)</text>
<g stroke="#111" stroke-width="1.3" fill="none">
<path d="M1458.5,541.75 H1464.5 M1461.5,541.75 V550.75 M1458.5,550.75 H1464.5"/>
<path d="M1519,516.75 H1525 M1522,516.75 V525.5 M1519,525.5 H1525"/>
<path d="M1579.25,537.5 H1585.25 M1582.25,537.5 V548.75 M1579.25,548.75 H1585.25"/>
<path d="M1638.5,581.25 H1644.5 M1641.5,581.25 V611.5 M1638.5,611.5 H1644.5"/>
<path d="M1698.5,534.5 H1704.5 M1701.5,534.5 V543.75 M1698.5,543.75 H1704.5"/>
</g>
<g fill="#0a0a0a">
<circle cx="1462.25" cy="528" r="1.8"/>
<circle cx="1462.75" cy="536.25" r="1.8"/>
<circle cx="1458.5" cy="542.5" r="1.8"/>
<circle cx="1461" cy="548.75" r="1.8"/>
<circle cx="1463.5" cy="550.75" r="1.8"/>
<circle cx="1467" cy="557" r="1.8"/>
<circle cx="1458.5" cy="569.5" r="1.8"/>
<circle cx="1519" cy="506.75" r="1.8"/>
<circle cx="1525.25" cy="506.75" r="1.8"/>
<circle cx="1516.5" cy="513" r="1.8"/>
<circle cx="1520.25" cy="513" r="1.8"/>
<circle cx="1524" cy="513" r="1.8"/>
<circle cx="1516.5" cy="517.5" r="1.8"/>
<circle cx="1526.5" cy="523.75" r="1.8"/>
<circle cx="1528.25" cy="532.5" r="1.8"/>
<circle cx="1526.5" cy="536.25" r="1.8"/>
<circle cx="1520.25" cy="546.75" r="1.8"/>
<circle cx="1583.5" cy="521.75" r="1.8"/>
<circle cx="1585.25" cy="532" r="1.8"/>
<circle cx="1577.25" cy="535.75" r="1.8"/>
<circle cx="1584" cy="545" r="1.8"/>
<circle cx="1584" cy="548.75" r="1.8"/>
<circle cx="1580.25" cy="559.25" r="1.8"/>
<circle cx="1577.75" cy="561.75" r="1.8"/>
<circle cx="1644.5" cy="559.25" r="1.8"/>
<circle cx="1646.5" cy="559.25" r="1.8"/>
<circle cx="1703.25" cy="523.75" r="1.8"/>
<circle cx="1703.25" cy="532" r="1.8"/>
<circle cx="1706.5" cy="534.25" r="1.8"/>
<circle cx="1700.75" cy="541.25" r="1.8"/>
<circle cx="1702" cy="550.75" r="1.8"/>
<circle cx="1696" cy="559.25" r="1.8"/>
<circle cx="1644" cy="590.75" r="1.8"/>
<circle cx="1639.75" cy="595" r="1.8"/>
<circle cx="1638.25" cy="618.25" r="1.8"/>
<circle cx="1646.5" cy="655.75" r="1.8"/>
</g>
<g stroke="#0c0c0c" stroke-width="1.9" fill="none" stroke-linejoin="miter">
<path transform="rotate(-0.2 1580.88 437)" d="M1461,449.5 V437 H1700.75 V475.75"/>
<path transform="rotate(-0.2 1550.25 466.75)" d="M1461.5,478 V466.75 H1639 V478"/>
<path transform="rotate(-0.2 1491.25 492.5)" d="M1462.25,515 V492.5 H1520.25 V501.25"/>
<path transform="rotate(-0.2 1672.5 510.75)" d="M1642.75,551.25 V510.75 H1702.25 V520"/>
</g>
<text x="1571" y="434.25" font-size="14.4" font-weight="normal" fill="#111" text-anchor="middle">ns</text>
<text x="1545.75" y="460" font-size="14.4" font-weight="normal" fill="#111" text-anchor="middle">p=0.0277</text>
<text x="1494" y="485.5" font-size="14.4" font-weight="normal" fill="#111" text-anchor="middle">p=0.0045</text>
<text x="1673" y="503.75" font-size="14.4" font-weight="normal" fill="#111" text-anchor="middle">p=0.0223</text>
</svg></body></html>
